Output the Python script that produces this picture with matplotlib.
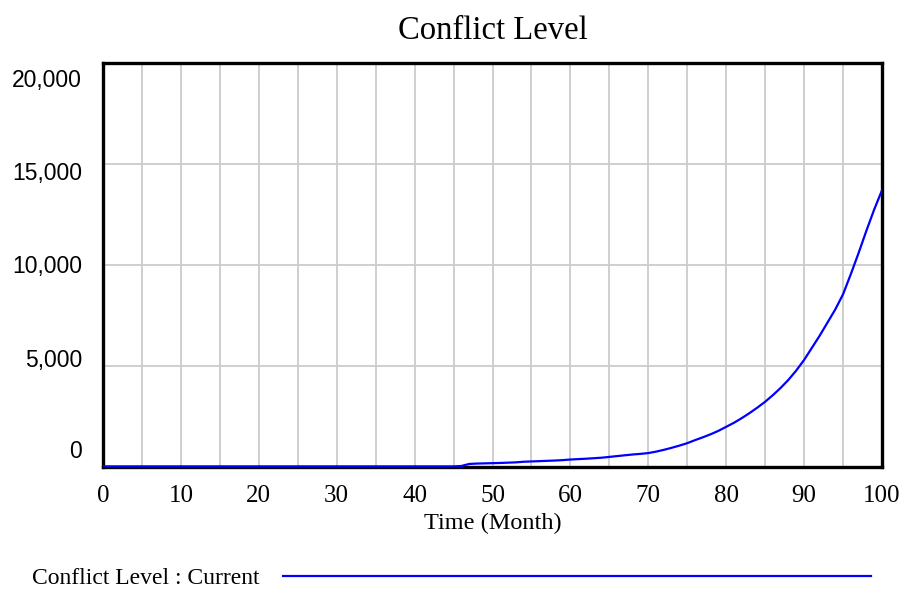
import matplotlib
matplotlib.use('Agg')
import matplotlib.pyplot as plt
import matplotlib.transforms as mtransforms

# Conflict Level over time (Vensim style run "Current")
months = list(range(0, 101))
conflict_level = [30] * 46 + [
    50, 150, 170, 180, 190, 200, 215, 230,          # 46-53
    260, 275, 290, 305, 320, 340, 370,              # 54-60
    390, 410, 435, 460, 500, 540, 580, 620, 650, 690,  # 61-70
    760, 850, 950, 1060, 1180, 1330, 1470, 1620, 1790, 1990,  # 71-80
    2190, 2420, 2670, 2940, 3230, 3560, 3920, 4320, 4780, 5300,  # 81-90
    5900, 6500, 7150, 7800, 8550, 9550, 10600, 11700, 12750, 13700,  # 91-100
]
x_ticks = list(range(0, 101, 5))
x_tick_labels = [str(v) if v % 10 == 0 else '' for v in x_ticks]
y_ticks = [0, 5000, 10000, 15000, 20000]
y_tick_labels = ['0', '5,000', '10,000', '15,000', '20,000']

serif = ['Liberation Serif', 'DejaVu Serif']
sans = ['Liberation Sans', 'DejaVu Sans']

fig = plt.figure(figsize=(9.01, 5.93), dpi=100)
ax = fig.add_axes([103 / 901, 126 / 593, 779 / 901, 404 / 593])

line, = ax.plot(months, conflict_level, color='#0000ff', lw=1.6,
                label='Conflict Level : Current', zorder=3)

ax.set_xlim(0, 100)
ax.set_ylim(0, 20000)
ax.set_xticks(x_ticks)
ax.set_xticklabels(x_tick_labels, family=serif, fontsize=18)
ax.set_yticks(y_ticks)
ax.set_yticklabels(y_tick_labels, family=sans, fontsize=16.5)
ax.tick_params(axis='both', length=0)
ax.tick_params(axis='x', pad=13)
ax.tick_params(axis='y', pad=15)

# Vensim spreads the y labels a little inward from the grid lines
shifts_px = [15, 6, -1, -10, -17]
for lbl, dy in zip(ax.get_yticklabels(), shifts_px):
    lbl.set_verticalalignment('center')
    lbl.set_transform(lbl.get_transform() +
                      mtransforms.ScaledTranslation(0, dy / 100, fig.dpi_scale_trans))

ax.grid(True, color='#cccccc', lw=1.3, zorder=0)
ax.set_axisbelow(True)
for sp in ax.spines.values():
    sp.set_linewidth(2.4)
    sp.set_color('black')

ax.set_title('Conflict Level', family=serif, fontsize=23.5, pad=17)
ax.set_xlabel('Time (Month)', family=serif, fontsize=17.5, labelpad=4)

fig.legend(handles=[line], loc='center left', bbox_to_anchor=(11 / 901, 1 - 578 / 593),
           frameon=False, markerfirst=False, handlelength=24.9, handletextpad=1.0,
           prop={'family': serif, 'size': 17})

fig.savefig('out.png', dpi=100)
